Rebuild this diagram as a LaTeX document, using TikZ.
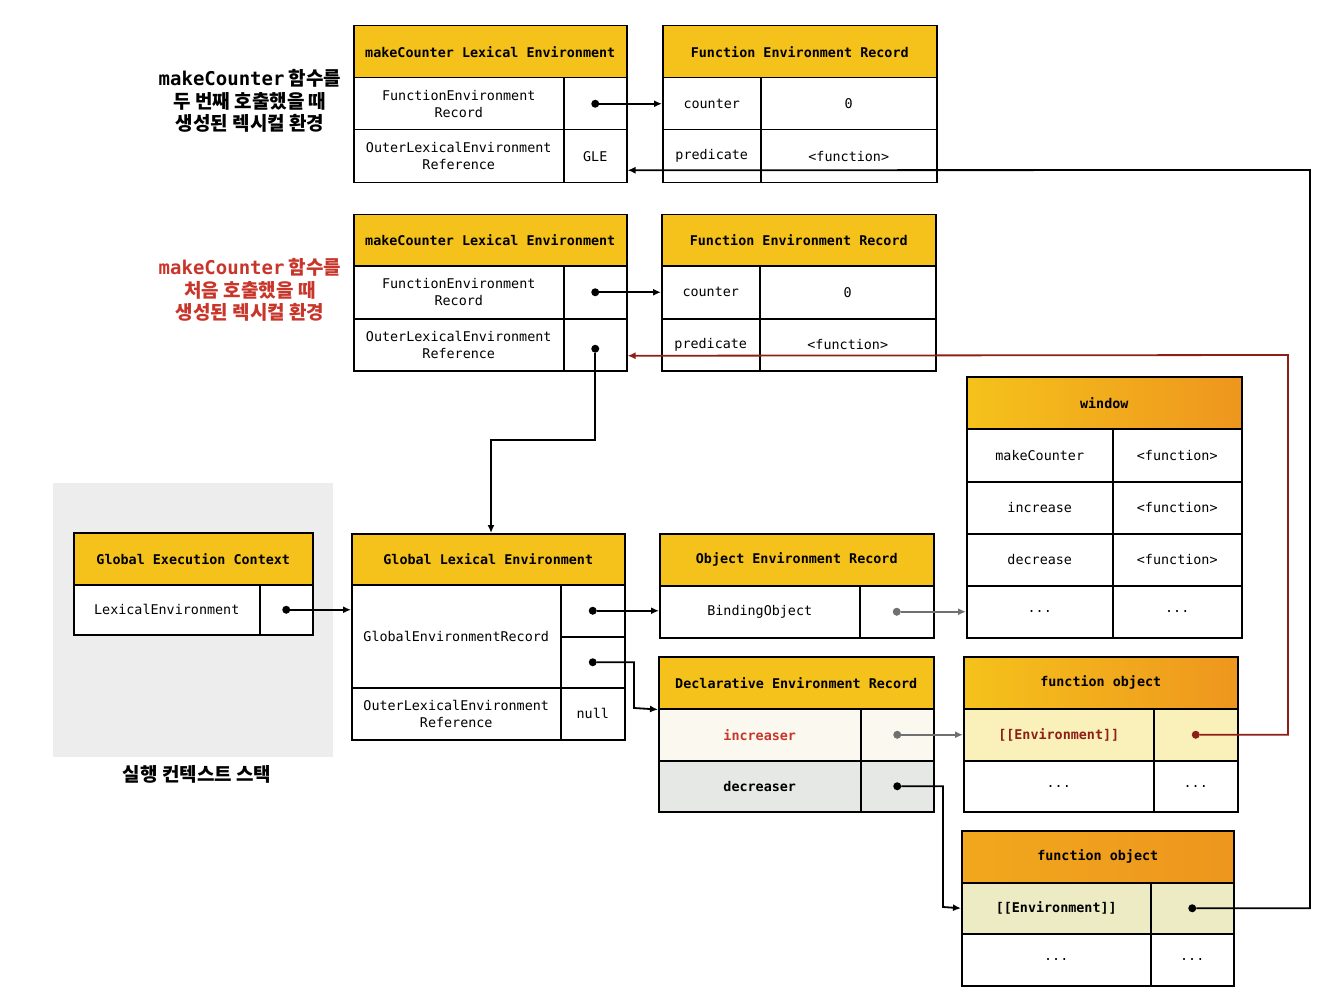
\documentclass[tikz,border=0pt]{standalone}
\usepackage{fontspec}
\setmonofont{DejaVu Sans Mono}
\newfontfamily\kofont{Noto Sans CJK KR}
\usetikzlibrary{arrows.meta}

\definecolor{hdryellow}{HTML}{F5C21B}
\definecolor{hdrorange}{HTML}{EE961E}
\definecolor{lblred}{HTML}{C8362B}
\definecolor{envred}{HTML}{8E1F16}
\definecolor{stackgray}{HTML}{EDEDED}
\definecolor{envyellow}{HTML}{FAF0BA}
\definecolor{envgreen}{HTML}{ECEBC4}
\definecolor{rowgray}{HTML}{E6E8E6}
\definecolor{rowcream}{HTML}{FBF9EF}
\definecolor{linkgray}{HTML}{707070}

\tikzset{
  hdr/.style={draw, line width=1.5pt, fill=hdryellow, anchor=north west, inner sep=0pt,
    minimum height=52pt, font=\ttfamily\bfseries\fontsize{13.4}{17}\selectfont},
  hdrshade/.style={left color=hdryellow, right color=hdrorange},
  cell/.style={draw, line width=1.5pt, fill=white, anchor=north west, inner sep=0pt,
    minimum height=52pt, align=center, font=\ttfamily\fontsize{13.4}{17}\selectfont},
  boldcell/.style={cell, font=\ttfamily\bfseries\fontsize{13.4}{17}\selectfont},
  dot/.style={circle, fill, inner sep=0pt, minimum size=8pt},
  link/.style={-{Latex[length=8pt,width=7pt]}, line width=1.8pt},
  note/.style={font=\kofont\bfseries\fontsize{19}{22.5}\selectfont, align=center},
}

\begin{document}
\begin{tikzpicture}[x=1pt,y=-1pt]
\useasboundingbox (0,0) rectangle (1337,1000);
\fill[stackgray] (53,483) rectangle (333,757);

\path (250,101) node[note] (call2) {{\ttfamily makeCounter} 함수를\\두 번째 호출했을 때\\생성된 렉시컬 환경};
\path (250,290) node[note, text=lblred] (call1) {{\ttfamily makeCounter} 함수를\\처음 호출했을 때\\생성된 렉시컬 환경};
\path (197,774) node[note] (stack) {실행 컨텍스트 스택};

\path (353,25) node[hdr, minimum width=273pt] (mc2) {makeCounter Lexical Environment};
\path (353,77) node[cell, minimum width=210pt] (mc2fer) {FunctionEnvironment\\Record};
\path (563,77) node[cell, minimum width=63pt] (mc2ferv) {};
\path (353,129) node[cell, minimum width=210pt, minimum height=53pt] (mc2ole) {OuterLexicalEnvironment\\Reference};
\path (563,129) node[cell, minimum width=63pt, minimum height=53pt] (mc2olev) {GLE};
\path (mc2ferv.center) node[dot] (mc2dot) {};

\path (662,25) node[hdr, minimum width=274pt] (fer2) {Function Environment Record};
\path (662,77) node[cell, minimum width=98pt] (fer2c) {counter};
\path (760,77) node[cell, minimum width=176pt] (fer2cv) {0};
\path (662,129) node[cell, minimum width=98pt, minimum height=53pt] (fer2p) {predicate};
\path (760,129) node[cell, minimum width=176pt, minimum height=53pt] (fer2pv) {<function>};

\path (353,214) node[hdr, minimum width=273pt, minimum height=51pt] (mc1) {makeCounter Lexical Environment};
\path (353,265) node[cell, minimum width=210pt, minimum height=53pt] (mc1fer) {FunctionEnvironment\\Record};
\path (563,265) node[cell, minimum width=63pt, minimum height=53pt] (mc1ferv) {};
\path (353,318) node[cell, minimum width=210pt] (mc1ole) {OuterLexicalEnvironment\\Reference};
\path (563,318) node[cell, minimum width=63pt] (mc1olev) {};
\path (mc1ferv.center) node[dot] (mc1dot) {};
\path ([yshift=-4pt]mc1olev.center) node[dot] (mc1outdot) {};

\path (661,214) node[hdr, minimum width=274pt, minimum height=51pt] (fer1) {Function Environment Record};
\path (661,265) node[cell, minimum width=98pt, minimum height=53pt] (fer1c) {counter};
\path (759,265) node[cell, minimum width=176pt, minimum height=53pt] (fer1cv) {0};
\path (661,318) node[cell, minimum width=98pt] (fer1p) {predicate};
\path (759,318) node[cell, minimum width=176pt] (fer1pv) {<function>};

\path (73,532) node[hdr, minimum width=239pt] (gec) {Global Execution Context};
\path (73,584) node[cell, minimum width=186pt, minimum height=50pt] (geclex) {LexicalEnvironment};
\path (259,584) node[cell, minimum width=53pt, minimum height=50pt] (geclexv) {};
\path (geclexv.center) node[dot] (gecdot) {};

\path (351,533) node[hdr, minimum width=273pt, minimum height=51pt] (gle) {Global Lexical Environment};
\path (351,584) node[cell, minimum width=209pt, minimum height=103pt] (gler) {GlobalEnvironmentRecord};
\path (560,584) node[cell, minimum width=64pt] (glerv1) {};
\path (560,636) node[cell, minimum width=64pt, minimum height=51pt] (glerv2) {};
\path (351,687) node[cell, minimum width=209pt] (gleole) {OuterLexicalEnvironment\\Reference};
\path (560,687) node[cell, minimum width=64pt] (gleolev) {null};
\path (glerv1.center) node[dot] (gledot1) {};
\path (glerv2.center) node[dot] (gledot2) {};

\path (659,533) node[hdr, minimum width=274pt] (oer) {Object Environment Record};
\path (659,585) node[cell, minimum width=200pt] (oerb) {BindingObject};
\path (859,585) node[cell, minimum width=74pt] (oerbv) {};
\path (oerbv.center) node[dot, linkgray] (oerdot) {};

\path (966,376) node[hdr, hdrshade, minimum width=275pt] (win) {window};
\path (966,428) node[cell, minimum width=146pt, minimum height=53pt] (win1) {makeCounter};
\path (1112,428) node[cell, minimum width=129pt, minimum height=53pt] (win1v) {<function>};
\path (966,481) node[cell, minimum width=146pt] (win2) {increase};
\path (1112,481) node[cell, minimum width=129pt] (win2v) {<function>};
\path (966,533) node[cell, minimum width=146pt] (win3) {decrease};
\path (1112,533) node[cell, minimum width=129pt] (win3v) {<function>};
\path (966,585) node[cell, minimum width=146pt] (win4) {...};
\path (1112,585) node[cell, minimum width=129pt] (win4v) {...};

\path (658,656) node[hdr, minimum width=275pt] (der) {Declarative Environment Record};
\path (658,708) node[boldcell, fill=rowcream, text=lblred, minimum width=202pt] (derinc) {increaser};
\path (860,708) node[cell, fill=rowcream, minimum width=73pt] (derincv) {};
\path (658,760) node[boldcell, fill=rowgray, minimum width=202pt, minimum height=51pt] (derdec) {decreaser};
\path (860,760) node[cell, fill=rowgray, minimum width=73pt, minimum height=51pt] (derdecv) {};
\path (derincv.center) node[dot, linkgray] (derdot1) {};
\path (derdecv.center) node[dot] (derdot2) {};

\path (963,656) node[hdr, hdrshade, minimum width=274pt] (fo1) {function object};
\path (963,708) node[boldcell, fill=envyellow, text=envred, minimum width=190pt] (fo1env) {[[Environment]]};
\path (1153,708) node[cell, fill=envyellow, minimum width=84pt] (fo1envv) {};
\path (963,760) node[cell, minimum width=190pt, minimum height=51pt] (fo1etc) {...};
\path (1153,760) node[cell, minimum width=84pt, minimum height=51pt] (fo1etcv) {...};
\path (fo1envv.center) node[dot, envred] (fo1dot) {};

\path (961,830) node[hdr, left color=hdryellow!40!hdrorange, right color=hdrorange, minimum width=272pt] (fo2) {function object};
\path (961,882) node[boldcell, fill=envgreen, minimum width=189pt, minimum height=51pt] (fo2env) {[[Environment]]};
\path (1150,882) node[cell, fill=envgreen, minimum width=83pt, minimum height=51pt] (fo2envv) {};
\path (961,933) node[cell, minimum width=189pt] (fo2etc) {...};
\path (1150,933) node[cell, minimum width=83pt] (fo2etcv) {...};
\path (fo2envv.center) node[dot] (fo2dot) {};

\coordinate (gleback) at (1310,170);
\coordinate (mc1back) at (1288,355);
\coordinate (outbend) at (491,440);
\coordinate (derin) at (634,708);
\coordinate (fo2in) at (943,907);

\draw[link] (mc2dot) -- (fer2c.west);
\draw[link] (mc1dot) -- (fer1c.west);
\draw[link] (gecdot) -- (gecdot -| gler.west);
\draw[link] (gledot1) -- (gledot1 -| oerb.west);
\draw[link] (gledot2) -| (derin) -- (der.south west);
\draw[link] (mc1outdot) |- (outbend) -- (outbend |- gle.north);
\draw[link, linkgray] (oerdot) -- (oerdot -| win4.west);
\draw[link, linkgray] (derdot1) -- (derdot1 -| fo1env.west);
\draw[link] (derdot2) -| (fo2in) -- (fo2env.west);
\draw[link, envred] (fo1dot) -| (mc1back) -- ([yshift=-11pt]mc1olev.east);
\draw[link] (fo2dot) -| (gleback) -- ([yshift=-14pt]mc2olev.east);
\end{tikzpicture}
\end{document}
